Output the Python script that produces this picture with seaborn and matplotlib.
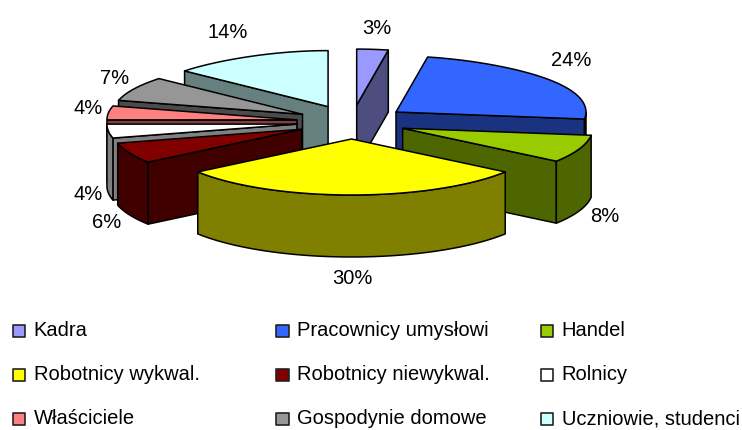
import matplotlib
matplotlib.use("Agg")
import matplotlib.pyplot as plt
import numpy as np
import pandas as pd
import seaborn as sns
from matplotlib.patches import Polygon

# DATA
categories = ["Kadra", "Pracownicy umysłowi", "Handel",
              "Robotnicy wykwal.", "Robotnicy niewykwal.", "Rolnicy",
              "Właściciele", "Gospodynie domowe", "Uczniowie, studenci"]
shares = [3, 24, 8, 30, 6, 4, 4, 7, 14]
top_colors = ["#9999FF", "#3366FF", "#99CC00", "#FFFF00", "#800000",
              "#FFFFFF", "#FF8080", "#969696", "#CCFFFF"]
side_colors = ["#4D4D80", "#1A3380", "#4D6600", "#808000", "#400000",
               "#808080", "#804040", "#4B4B4B", "#668080"]

# LAYOUT, in pixels of the figure
cx, cy = 351.5, 122
rx, ry = 190, 56
ex, ey = 55, 17
depth = 62
label_xy = [(377, 29), (571, 60), (605, 216), (352, 279), (107, 223),
            (88, 195), (88, 109), (115, 78), (228, 33)]
key_col = [19, 282.5, 547]
key_row = [331, 375, 419]

sns.set_theme(style="white")
plt.rcParams["font.family"] = ["Liberation Sans", "DejaVu Sans"]

fig, ax = plt.subplots(figsize=(7.42, 4.30), dpi=100)
ax.set_position([0, 0, 1, 1])


def rim(a, tip):
    # point on the slice rim, the back of the pie is a bit narrower
    a = np.asarray(a)
    squeeze = 1 - 0.12 * np.clip(np.cos(a), 0, 1) ** 4
    return np.column_stack([tip[0] + rx * np.sin(a) * squeeze,
                            tip[1] - ry * np.cos(a)])


def face(pts, color, z):
    # extrude a line of points downwards
    low = pts + [0, depth]
    ax.add_patch(Polygon(np.vstack([pts, low[::-1]]), closed=True, fc=color,
                         ec="black", lw=1.1, joinstyle="round", zorder=z))


edges = np.radians(np.cumsum([0] + shares) / sum(shares) * 360)
mids = (edges[:-1] + edges[1:]) / 2
tips = np.column_stack([cx + ex * np.sin(mids), cy - ey * np.cos(mids)])

# back slices first
for z, i in enumerate(np.argsort(tips[:, 1])):
    a0, a1 = edges[i], edges[i + 1]
    tip = tips[i]
    z = 2 + z
    # cut walls that face the viewer
    if a1 < np.pi:
        face(np.vstack([tip, rim([a1], tip)]), side_colors[i], z)
    if a0 > np.pi:
        face(np.vstack([tip, rim([a0], tip)]), side_colors[i], z)
    # outer wall, only the front half of the rim shows
    lo, hi = max(a0, np.pi / 2), min(a1, 3 * np.pi / 2)
    if hi > lo:
        face(rim(np.linspace(lo, hi, 40), tip), side_colors[i], z)
    # top
    arc = rim(np.linspace(a0, a1, 60), tip)
    ax.add_patch(Polygon(np.vstack([tip, arc]), closed=True, fc=top_colors[i],
                         ec="black", lw=1.1, joinstyle="round", zorder=z))

for share, (x, y) in zip(shares, label_xy):
    ax.text(x, y, f"{share}%", ha="center", va="center", fontsize=14.5,
            color="black", zorder=30)

# LEGEND
keys = pd.DataFrame({
    "category": categories,
    "x": [key_col[i % 3] for i in range(len(categories))],
    "y": [key_row[i // 3] for i in range(len(categories))],
})
sns.scatterplot(data=keys, x="x", y="y", hue="category",
                palette=dict(zip(categories, top_colors)), marker="s", s=80,
                edgecolor="#222222", linewidth=1.2, legend=False, ax=ax,
                zorder=30)
for _, row in keys.iterrows():
    ax.text(row["x"] + 14.5, row["y"], row["category"], ha="left", va="center",
            fontsize=14.5, color="black", zorder=30)

ax.set_xlim(0, 742)
ax.set_ylim(430, 0)
ax.set_axis_off()

fig.savefig("out.png", dpi=100, facecolor="white")
